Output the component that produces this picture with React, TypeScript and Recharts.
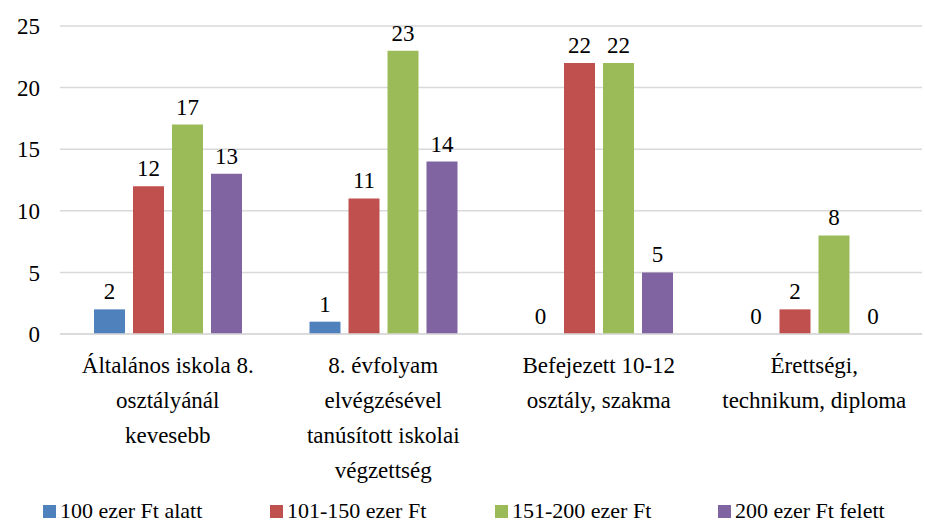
/** IncomeByEducation — grouped bar chart of household income bands by education level */
import { BarChart, Bar, XAxis, YAxis, CartesianGrid, Legend, LabelList } from 'recharts'

const categories = [
  'Általános iskola 8.\nosztályánál\nkevesebb',
  '8. évfolyam\nelvégzésével\ntanúsított iskolai\nvégzettség',
  'Befejezett 10-12\nosztály, szakma',
  'Érettségi,\ntechnikum, diploma',
]

const under100 = [2, 1, 0, 0]
const from101to150 = [12, 11, 22, 2]
const from151to200 = [17, 23, 22, 8]
const over200 = [13, 14, 5, 0]

const yTicks = [0, 5, 10, 15, 20, 25]

const series = [
  { key: 'a', name: '100 ezer Ft alatt', color: '#4F81BD', values: under100 },
  { key: 'b', name: '101-150 ezer Ft', color: '#C0504D', values: from101to150 },
  { key: 'c', name: '151-200 ezer Ft', color: '#9BBB59', values: from151to200 },
  { key: 'd', name: '200 ezer Ft felett', color: '#8064A2', values: over200 },
]

const data = categories.map((cat, i) => {
  const row: Record<string, string | number> = { cat }
  series.forEach(s => { row[s.key] = s.values[i] })
  return row
})

const FONT = 'Liberation Serif, DejaVu Serif, serif'

// legend item slots (px) so the swatches sit where they do in the original
const legendSlots = [227, 225, 223, 200]

// eslint-disable-next-line @typescript-eslint/no-explicit-any
function CategoryTick({ x, y, payload }: any) {
  const lines = String(payload.value).split('\n')
  return (
    <text x={x} y={y} textAnchor="middle" fill="#000" style={{ fontFamily: FONT, fontSize: 23 }}>
      {lines.map((line, i) => (
        <tspan key={i} x={x} dy={i === 0 ? 31 : 35}>{line}</tspan>
      ))}
    </text>
  )
}

function LegendContent() {
  return (
    <div style={{ display: 'flex', height: 22, alignItems: 'center', paddingLeft: 43, fontFamily: FONT, fontSize: 22, color: '#000' }}>
      {series.map((s, i) => (
        <div key={s.key} style={{ display: 'flex', alignItems: 'center', width: legendSlots[i], whiteSpace: 'nowrap' }}>
          <span style={{ width: 13, height: 13, background: s.color, marginRight: 4, display: 'inline-block' }} />
          {s.name}
        </div>
      ))}
    </div>
  )
}

export default function App() {
  return (
    <div style={{ width: 925, height: 522, background: '#fff', fontFamily: FONT }}>
      <style>{'body{margin:0}'}</style>
      <BarChart
        width={925}
        height={522}
        data={data}
        margin={{ top: 26, right: 3, bottom: 0, left: 0 }}
        barSize={31}
        barGap={8}
        style={{ fontFamily: FONT }}
      >
        <CartesianGrid vertical={false} stroke="#d9d9d9" strokeWidth={1.5} />
        <XAxis
          dataKey="cat"
          height={166}
          interval={0}
          tick={<CategoryTick />}
          axisLine={{ stroke: '#d9d9d9', strokeWidth: 1.5 }}
          tickLine={false}
        />
        <YAxis
          domain={[0, 25]}
          ticks={yTicks}
          width={60}
          tick={{ fill: '#000', fontSize: 23, fontFamily: FONT }}
          axisLine={false}
          tickLine={false}
          tickMargin={14}
        />
        <Legend content={<LegendContent />} verticalAlign="bottom" />
        {series.map(s => (
          <Bar key={s.key} dataKey={s.key} name={s.name} fill={s.color} minPointSize={0.01} isAnimationActive={false}>
            <LabelList dataKey={s.key} position="top" offset={10} fill="#000" fontSize={23} fontFamily={FONT} />
          </Bar>
        ))}
      </BarChart>
    </div>
  )
}
